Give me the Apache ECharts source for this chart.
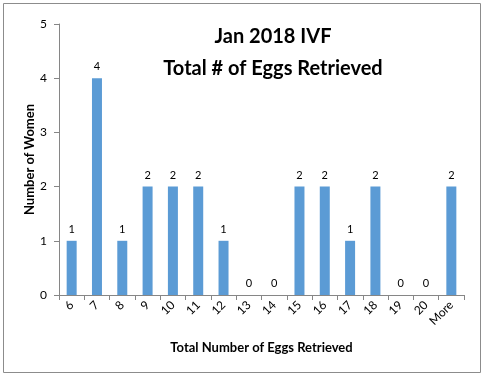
<!DOCTYPE html>
<html>
<head>
<meta charset="utf-8">
<script src="https://cdn.jsdelivr.net/npm/echarts@6/dist/echarts.min.js"></script>
<style>
  html, body { margin: 0; padding: 0; background: #fff; }
  #chart { width: 486px; height: 378px; }
</style>
</head>
<body>
<div id="chart"></div>
<script>
var categories = ['6', '7', '8', '9', '10', '11', '12', '13', '14', '15', '16', '17', '18', '19', '20', 'More'];
var counts = [1, 4, 1, 2, 2, 2, 1, 0, 0, 2, 2, 1, 2, 0, 0, 2];
var yTicks = [0, 1, 2, 3, 4, 5];

var font = 'Lato, "Open Sans", sans-serif';
var chart = echarts.init(document.getElementById('chart'));
chart.setOption({
  animation: false,
  textStyle: { fontFamily: font },
  title: {
    text: 'Jan 2018 IVF\nTotal # of Eggs Retrieved',
    left: 268,
    top: 16,
    textAlign: 'center',
    textStyle: { fontSize: 20, fontWeight: 'bold', color: '#000', lineHeight: 32, fontFamily: font }
  },
  graphic: [{
    type: 'rect',
    shape: { x: 3.5, y: 3.5, width: 477, height: 369 },
    style: { fill: null, stroke: '#8c8c8c', lineWidth: 1 },
    silent: true
  }],
  grid: { left: 59, right: 22, top: 24, bottom: 83 },
  xAxis: {
    type: 'category',
    data: categories,
    name: 'Total Number of Eggs Retrieved',
    nameLocation: 'middle',
    nameGap: 46,
    nameMoveOverlap: false,
    nameTextStyle: { fontSize: 13, fontWeight: 'bold', color: '#000' },
    axisLine: { lineStyle: { color: '#868686' } },
    axisTick: { show: true, length: 5, lineStyle: { color: '#868686' } },
    axisLabel: { rotate: 45, fontSize: 12, color: '#000', margin: 8, interval: 0 }
  },
  yAxis: {
    type: 'value',
    min: yTicks[0],
    max: yTicks[yTicks.length - 1],
    interval: 1,
    name: 'Number of Women',
    nameLocation: 'middle',
    nameGap: 23,
    nameMoveOverlap: false,
    nameTextStyle: { fontSize: 13, fontWeight: 'bold', color: '#000' },
    axisLine: { show: true, lineStyle: { color: '#868686' } },
    axisTick: { show: true, length: 5, lineStyle: { color: '#868686' } },
    splitLine: { show: false },
    axisLabel: { fontSize: 12, color: '#000', margin: 12 }
  },
  series: [{
    type: 'bar',
    data: counts,
    barWidth: 10,
    itemStyle: { color: '#5B9BD5' },
    label: { show: true, position: 'top', distance: 6, fontSize: 11, color: '#000' }
  }]
});
</script>
</body>
</html>
